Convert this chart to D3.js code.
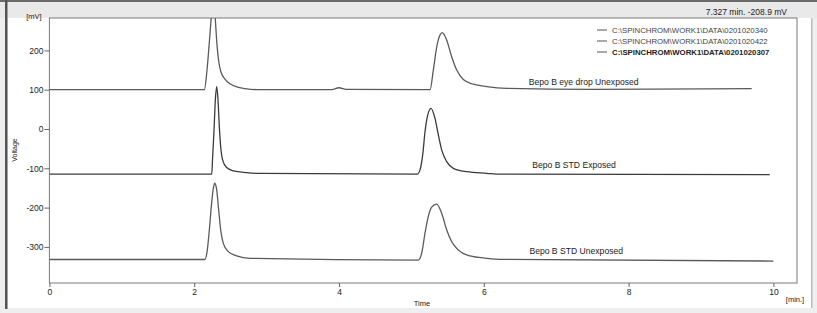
<!DOCTYPE html>
<html><head><meta charset="utf-8">
<script src="https://cdn.jsdelivr.net/npm/d3@7"></script>
<style>
html,body{margin:0;padding:0;background:#efefef;}
svg{display:block;font-family:"Liberation Sans",Arial,sans-serif;}
</style></head>
<body>
<svg id="c" width="817" height="313"></svg>
<script>
// ---- data (time in min, voltage in mV) ----
const xTicks = [0, 2, 4, 6, 8, 10];
const yTicks = [-300, -200, -100, 0, 100, 200];
const legendNames = ["C:\\SPINCHROM\\WORK1\\DATA\\0201020340", "C:\\SPINCHROM\\WORK1\\DATA\\0201020422", "C:\\SPINCHROM\\WORK1\\DATA\\0201020307"];
const traceLabels = ["Bepo B eye drop Unexposed", "Bepo B STD Exposed", "Bepo B STD Unexposed"];
const cursorText = "7.327 min.  -208.9 mV";

const eyeDropTime = [0, 2.14, 2.177, 2.211, 2.239, 2.264, 2.287, 2.315, 2.342, 2.37, 2.425, 2.494, 2.59, 2.701, 2.909, 3.9, 4.0, 4.1, 5.257, 5.303, 5.35, 5.395, 5.427, 5.488, 5.556, 5.626, 5.717, 5.855, 6.04, 6.316, 7.5, 9.7];
const eyeDropMV   = [100, 100, 150, 226, 290, 330, 290, 214, 168, 145, 127, 115, 107, 103, 100, 100, 105, 101, 100, 150, 209, 239, 245, 226, 184, 150, 126, 114, 108, 103.5, 101, 102.5];

const stdExpTime = [0, 2.242, 2.255, 2.274, 2.292, 2.311, 2.329, 2.347, 2.366, 2.393, 2.449, 2.54, 2.725, 2.909, 5.08, 5.119, 5.156, 5.188, 5.22, 5.271, 5.326, 5.372, 5.418, 5.488, 5.579, 5.764, 6.04, 6.224, 9.95];
const stdExpMV   = [-115, -115, -70, -2.5, 74, 108, 74, 6, -45, -79, -98, -106.5, -111, -113, -115, -104, -66, -7, 31, 52.7, 27, -15, -53, -83, -100, -108.6, -112.7, -115, -116];

const stdUnexpTime = [0, 2.149, 2.181, 2.209, 2.236, 2.264, 2.283, 2.311, 2.338, 2.366, 2.402, 2.471, 2.587, 2.771, 5.095, 5.142, 5.188, 5.233, 5.28, 5.35, 5.418, 5.488, 5.557, 5.648, 5.809, 6.04, 6.224, 10.0];
const stdUnexpMV   = [-332, -332, -308, -257, -198, -151, -138, -155, -206, -257, -291, -312, -323, -329, -333.6, -316, -265, -223, -199, -191, -214.5, -257, -287, -308, -323, -329, -331.6, -336];

const series = [
  {t: eyeDropTime, v: eyeDropMV},
  {t: stdExpTime, v: stdExpMV},
  {t: stdUnexpTime, v: stdUnexpMV}
];
const labelPos = [{t: 6.62, v: 112}, {t: 6.67, v: -100}, {t: 6.63, v: -318}];

// ---- layout ----
const svg = d3.select("#c");
const L = 49.4, R = 797, T = 18, B = 283;
const x = d3.scaleLinear().domain([0, 10]).range([L, L + 724]);
const y = d3.scaleLinear().domain([0, 100]).range([129, 89.7]);

// window chrome
svg.append("rect").attr("x", 0).attr("y", 0).attr("width", 817).attr("height", 313).attr("fill", "#efefef");
svg.append("rect").attr("x", 0).attr("y", 0).attr("width", 817).attr("height", 18).attr("fill", "#e9e9e9");
svg.append("rect").attr("x", 0).attr("y", 0).attr("width", 817).attr("height", 2).attr("fill", "#6a6a6a");
svg.append("rect").attr("x", 8).attr("y", 18).attr("width", 804).attr("height", 290).attr("fill", "#ffffff");
svg.append("rect").attr("x", 5).attr("y", 0).attr("width", 2.5).attr("height", 309).attr("fill", "#555");
svg.append("rect").attr("x", 811).attr("y", 18).attr("width", 1.5).attr("height", 290).attr("fill", "#bbb");

svg.append("text").attr("x", 787).attr("y", 15).attr("text-anchor", "end")
  .attr("font-size", 8.5).attr("fill", "#222").text(cursorText);

// plot frame
svg.append("rect").attr("x", L).attr("y", T).attr("width", R - L).attr("height", B - T)
  .attr("fill", "#fff").attr("stroke", "#7a7a7a").attr("stroke-width", 1);

// axes
const yAxis = d3.axisLeft(y).tickValues(yTicks).tickSize(5).tickFormat(d => String(d));
const gy = svg.append("g").attr("transform", `translate(${L},0)`).call(yAxis);
const xAxis = d3.axisBottom(x).tickValues(xTicks).tickSize(4).tickFormat(d => String(d));
const gx = svg.append("g").attr("transform", `translate(0,${B})`).call(xAxis);
[gy, gx].forEach(g => {
  g.select(".domain").remove();
  g.selectAll("line").attr("stroke", "#666");
  g.selectAll("text").attr("font-size", 8.5).attr("fill", "#222").attr("font-family", "Liberation Sans, Arial, sans-serif");
});
gy.selectAll("text").attr("x", -6);
gx.selectAll("text").attr("y", 6);

svg.append("text").attr("x", 34).attr("y", 19).attr("text-anchor", "middle").attr("font-size", 7.5).attr("fill", "#222").text("[mV]");
svg.append("text").attr("transform", "translate(17,150) rotate(-90)").attr("text-anchor", "middle").attr("font-size", 7).attr("fill", "#222").text("Voltage");
svg.append("text").attr("x", 422).attr("y", 306).attr("text-anchor", "middle").attr("font-size", 7.5).attr("fill", "#222").text("Time");
svg.append("text").attr("x", 795).attr("y", 302).attr("text-anchor", "middle").attr("font-size", 7.5).attr("fill", "#222").text("[min.]");

// traces
svg.append("clipPath").attr("id", "clip").append("rect").attr("x", L).attr("y", T).attr("width", R - L).attr("height", B - T);
const line = d3.line().x(d => x(d[0])).y(d => y(d[1])).curve(d3.curveMonotoneX);
const g = svg.append("g").attr("clip-path", "url(#clip)");
series.forEach((s, i) => {
  const pts = s.t.map((t, j) => [t, s.v[j]]);
  g.append("path").datum(pts).attr("d", line).attr("fill", "none")
    .attr("stroke", i === 1 ? "#3a3a3a" : "#5a5a5a").attr("stroke-width", 1.3);
});
traceLabels.forEach((lab, i) => {
  svg.append("text").attr("x", x(labelPos[i].t)).attr("y", y(labelPos[i].v))
    .attr("font-size", 8.6).attr("fill", "#222").text(lab);
});

// legend
legendNames.forEach((n, i) => {
  const yy = 30 + i * 11;
  svg.append("line").attr("x1", 597).attr("x2", 607).attr("y1", yy).attr("y2", yy).attr("stroke", "#555").attr("stroke-width", 1);
  svg.append("text").attr("x", 612).attr("y", yy + 3).attr("font-size", 7.8)
    .attr("font-weight", i === 2 ? "bold" : "normal").attr("fill", i === 2 ? "#222" : "#444").text(n);
});
</script>
</body></html>
